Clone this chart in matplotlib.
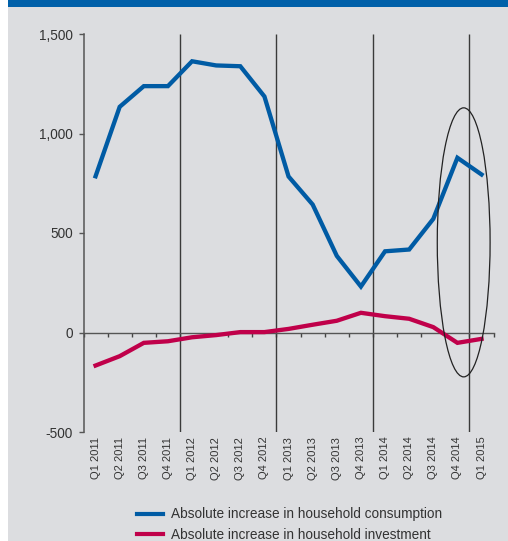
import numpy as np
import matplotlib
matplotlib.use("Agg")
import matplotlib.pyplot as plt
from matplotlib import font_manager
from matplotlib.patches import Rectangle, Ellipse
from matplotlib.lines import Line2D

# ---- data -------------------------------------------------------------
quarters = ["Q1 2011", "Q2 2011", "Q3 2011", "Q4 2011",
            "Q1 2012", "Q2 2012", "Q3 2012", "Q4 2012",
            "Q1 2013", "Q2 2013", "Q3 2013", "Q4 2013",
            "Q1 2014", "Q2 2014", "Q3 2014", "Q4 2014",
            "Q1 2015"]
consumption = [785, 1134, 1238, 1238, 1363, 1342, 1338, 1186,
               784, 643, 385, 231, 408, 417, 571, 878, 794]
investment = [-166, -119, -52, -44, -24, -13, 2, 2,
              18, 39, 59, 99, 82, 69, 27, -52, -32]
y_ticks = [-500, 0, 500, 1000, 1500]
y_tick_labels = ["-500", "0", "500", "1,000", "1,500"]
series_labels = ["Absolute increase in household consumption",
                 "Absolute increase in household investment"]

# ---- style --------------------------------------------------------------
BLUE = "#005ba4"
RED = "#c0004a"
PANEL = "#dcdde0"
HEADER = "#0060a9"
TEXT = "#333333"
plt.rcParams["font.family"] = ["Liberation Sans", "DejaVu Sans"]

# narrow face for the rotated quarter labels when available
_installed = {f.name for f in font_manager.fontManager.ttflist}
if "Liberation Sans Narrow" in _installed:
    QFONT, QSIZE = "Liberation Sans Narrow", 9.0
else:
    QFONT, QSIZE = "Liberation Sans", 8.0

W, H = 508, 541
fig = plt.figure(figsize=(W / 100, H / 100), dpi=100)
fig.patch.set_facecolor("white")
fig.add_artist(Rectangle((8 / W, 0), 500 / W, 1, transform=fig.transFigure,
                         facecolor=PANEL, edgecolor="none", zorder=0))
fig.add_artist(Rectangle((8 / W, 1 - 7 / H), 500 / W, 7 / H,
                         transform=fig.transFigure,
                         facecolor=HEADER, edgecolor="none", zorder=1))

left, right = 83.5 / W, 493.6 / W
top, bottom = 1 - 34 / H, 1 - 432 / H
ax = fig.add_axes([left, bottom, right - left, top - bottom])
ax.set_facecolor("none")

x = np.arange(len(quarters))
ax.set_xlim(-0.5, len(quarters) - 0.5)
ax.set_ylim(y_ticks[0], y_ticks[-1])

# year separators at the Q4/Q1 boundaries
year_bounds = [i - 0.5 for i, q in enumerate(quarters) if q.startswith("Q1") and i > 0]
ax.vlines(year_bounds, y_ticks[0], y_ticks[-1], colors="#3a3a3a", lw=1.0, zorder=2)

ax.plot(x, consumption, color=BLUE, lw=3.1, solid_joinstyle="miter", zorder=4)
ax.plot(x, investment, color=RED, lw=3.1, solid_joinstyle="miter", zorder=4)

# highlight around the latest quarters
ax.add_patch(Ellipse((15.26, 453), 2.19, 1352, fill=False, ec="#222222",
                     lw=0.9, zorder=5))

# spines
for s in ["top", "right"]:
    ax.spines[s].set_visible(False)
ax.spines["left"].set_color("#555555")
ax.spines["left"].set_linewidth(1.1)
ax.spines["bottom"].set_position(("data", 0))
ax.spines["bottom"].set_color("#555555")
ax.spines["bottom"].set_linewidth(1.0)

# y axis
ax.set_yticks(y_ticks)
ax.set_yticklabels(y_tick_labels, fontsize=9.8, color=TEXT)
ax.tick_params(axis="y", length=3.4, width=1.0, color="#555555", pad=4.3)

# boundary ticks on the zero line
ax.set_xticks(np.arange(-0.5, len(quarters), 1.0))
ax.tick_params(axis="x", direction="out", length=3.2, width=1.0,
               color="#444444", labelbottom=False)

# quarter labels under the plot
sec = ax.secondary_xaxis("bottom")
sec.set_xticks(x)
sec.set_xticklabels(quarters, rotation=90, va="top", ha="center",
                    fontsize=QSIZE, color=TEXT, family=QFONT)
sec.tick_params(length=0, pad=3.4)
sec.spines["bottom"].set_visible(False)

# legend
handles = [Line2D([], [], color=BLUE, lw=3), Line2D([], [], color=RED, lw=3)]
leg = fig.legend(handles, series_labels, loc="center left",
                 bbox_to_anchor=(136.7 / W, 1 - 524.5 / H), frameon=False,
                 fontsize=9.8, handlelength=1.95, handletextpad=0.6,
                 labelspacing=0.45, borderpad=0, borderaxespad=0)
for t in leg.get_texts():
    t.set_color(TEXT)

fig.savefig("out.png", dpi=100, facecolor=fig.get_facecolor())
